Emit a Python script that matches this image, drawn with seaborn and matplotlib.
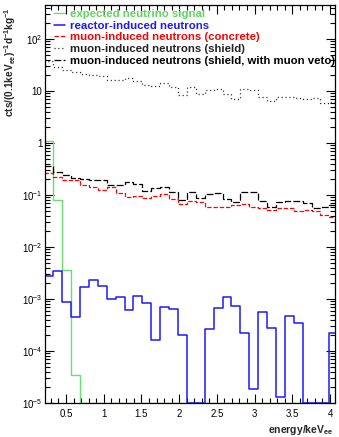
import numpy as np
import matplotlib
matplotlib.use("Agg")
import matplotlib.pyplot as plt
import seaborn as sns
from matplotlib.ticker import MultipleLocator, LogLocator, FuncFormatter, NullFormatter
from matplotlib.lines import Line2D

# ---- data (33 bins) ----
bin_start = 0.215
bin_width = 0.118
n_bins = 33

neutrino = [1.07, 0.081, 3.6e-3, 3.5e-5] + [0] * 29
reactor = [2.8e-3, 3.4e-3, 8.6e-4, 4.5e-4, 1.7e-3, 2.35e-3, 1.8e-3, 1.0e-3, 1.1e-3, 6.2e-4,
           1.15e-3, 8.3e-4, 1.6e-4, 6.9e-4, 6.5e-4, 2.0e-4, 0, 0, 2.6e-4, 6.7e-4,
           1.07e-3, 7.2e-4, 2.2e-4, 1.9e-5, 5.5e-4, 2.8e-4, 1.3e-5, 4.8e-4, 3.4e-4, 0,
           0, 0, 2.2e-4]
concrete = [0.265, 0.22, 0.197, 0.197, 0.153, 0.14, 0.126, 0.14, 0.11, 0.091,
            0.097, 0.087, 0.097, 0.105, 0.083, 0.067, 0.078, 0.072, 0.058, 0.058,
            0.060, 0.063, 0.067, 0.060, 0.056, 0.052, 0.055, 0.056, 0.050, 0.052,
            0.050, 0.042, 0.037]
shield = [37, 29.5, 25.8, 22.9, 21.5, 20.4, 19.1, 16, 16.5, 17.8,
          15.8, 13.2, 12.6, 14.2, 11.8, 8.5, 11.8, 8.9, 10.3, 11,
          8.9, 7.1, 11.1, 10.6, 7.7, 6.3, 7.6, 7.6, 7.2, 7.0,
          7.3, 5.9, 6.1]
shield_veto = [0.366, 0.277, 0.245, 0.21, 0.205, 0.197, 0.197, 0.158, 0.158, 0.175,
               0.165, 0.118, 0.136, 0.14, 0.114, 0.079, 0.114, 0.087, 0.105, 0.11,
               0.085, 0.072, 0.112, 0.112, 0.076, 0.060, 0.072, 0.076, 0.076, 0.070,
               0.056, 0.058, 0.064]

labels = ["expected neutrino signal", "reactor-induced neutrons",
          "muon-induced neutrons (concrete)", "muon-induced neutrons (shield)",
          "muon-induced neutrons (shield, with muon veto)"]

# ---- style ----
YMIN, YMAX = 1e-5, 450
XMIN, XMAX = 0.222, 4.066

sns.set_style("ticks")
plt.rcParams["font.family"] = ["Liberation Sans", "DejaVu Sans"]
plt.rcParams["mathtext.default"] = "regular"

fig = plt.figure(figsize=(3.39, 4.37), dpi=100)
ax = fig.add_axes([45 / 339, 34 / 437, 290 / 339, 398 / 437])
ax.set_yscale("log")

edges = bin_start + bin_width * np.arange(n_bins + 1)

series = [
    (neutrino, "#70dc70", "-", 1.0),
    (reactor, "#1a1aff", "-", 1.1),
    (concrete, "#ff0000", (0, (3.5, 1.5)), 0.9),
    (shield, "#222222", (0, (0.9, 2.2)), 0.9),
    (shield_veto, "#000000", (0, (5.5, 1.8)), 0.9),
]

handles = []
for (vals, col, ls, lw), lab in zip(series, labels):
    v = np.clip(np.asarray(vals, dtype=float), YMIN, None)
    y = np.append(v, v[-1])
    sns.lineplot(x=edges, y=y, ax=ax, color=col, linestyle=ls, linewidth=lw,
                 drawstyle="steps-post", estimator=None, sort=False)
    handles.append(Line2D([], [], color=col, linestyle=ls, linewidth=lw))

ax.set_xlim(XMIN, XMAX)
ax.set_ylim(YMIN, YMAX)

# ticks
ax.xaxis.set_major_locator(MultipleLocator(0.5))
ax.xaxis.set_minor_locator(MultipleLocator(0.1))
ax.yaxis.set_major_locator(LogLocator(base=10, numticks=20))
ax.yaxis.set_minor_locator(LogLocator(base=10, subs=np.arange(2, 10), numticks=20))
ax.yaxis.set_minor_formatter(NullFormatter())


def yfmt(v, pos):
    e = int(round(np.log10(v)))
    if e == 0:
        return "1"
    if e == 1:
        return "10"
    return "$10^{%d}$" % e


ax.yaxis.set_major_formatter(FuncFormatter(yfmt))
ax.xaxis.set_major_formatter(FuncFormatter(lambda v, p: ("%g" % v)))

ax.tick_params(which="both", direction="in", top=True, right=True, width=0.8,
               labelsize=7, colors="black")
ax.tick_params(which="major", length=6.5)
ax.tick_params(which="minor", length=3.3)
ax.tick_params(axis="x", pad=4)
ax.tick_params(axis="y", pad=2)
for s in ax.spines.values():
    s.set_linewidth(0.9)
    s.set_color("black")

ax.set_xlabel("energy/keV$_{ee}$", fontsize=7.5, fontweight="bold", loc="right")
ax.xaxis.set_label_coords(0.995, -0.05)
ax.set_ylabel("cts/(0.1keV$_{ee}$)$^{-1}$d$^{-1}$kg$^{-1}$", fontsize=7.3,
              fontweight="bold", loc="top")
ax.yaxis.set_label_coords(-0.092, 0.995)

leg = ax.legend(handles, labels, loc="upper left", bbox_to_anchor=(0.03, 0.99),
                frameon=False, handlelength=1.0, handletextpad=0.4,
                labelspacing=0.15, borderaxespad=0.0, borderpad=0.0,
                prop={"weight": "bold", "size": 8.2})
for t, (_, col, _, _) in zip(leg.get_texts(), series):
    t.set_color(col if col != "#70dc70" else "#5cd65c")

fig.savefig("out.png", dpi=100)
